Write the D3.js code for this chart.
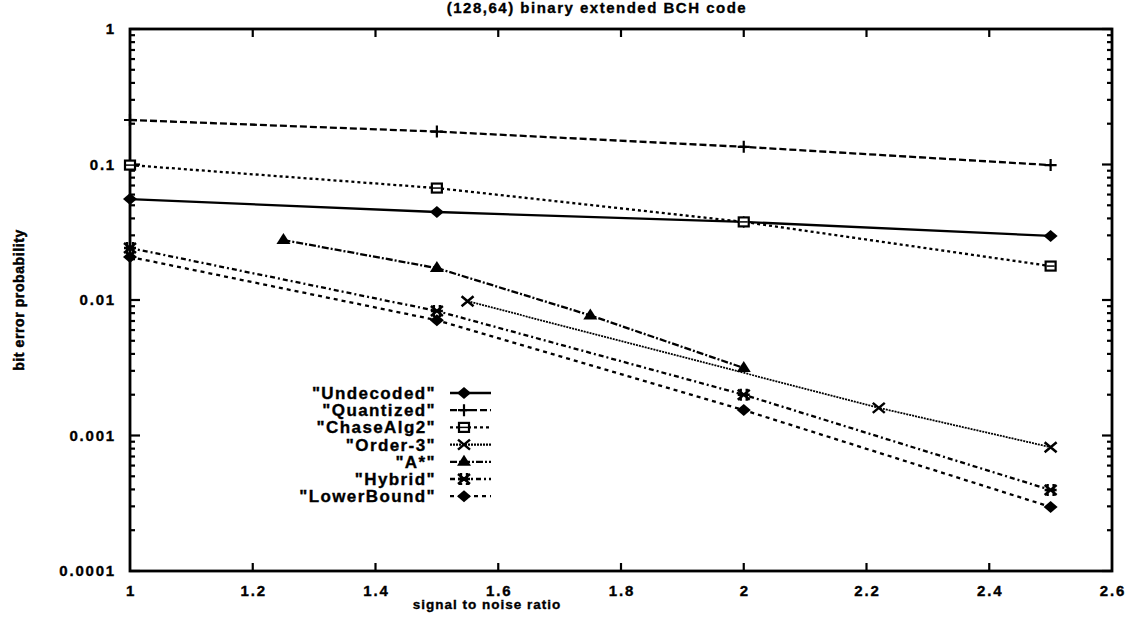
<!DOCTYPE html>
<html>
<head>
<meta charset="utf-8">
<script src="https://cdn.jsdelivr.net/npm/d3@7"></script>
<style>
  body { margin: 0; background: #fff; }
  svg { display: block; }
  text { font-family: "Liberation Sans", Arial, sans-serif; font-weight: bold; fill: #000; stroke: #000; stroke-width: 0.35; }
</style>
</head>
<body>
<svg id="chart" width="1135" height="619"></svg>
<script>
// series
var snrGrid = [1, 1.5, 2, 2.5];
var undecoded = [0.0556, 0.0446, 0.0377, 0.0297];
var quantized = [0.213, 0.175, 0.135, 0.099];
var chaseAlg2 = [0.099, 0.067, 0.0377, 0.0178];
var order3Snr = [1.55, 2.22, 2.5];
var order3 = [0.0098, 0.0016, 0.00082];
var aStarSnr = [1.25, 1.5, 1.75, 2];
var aStar = [0.0277, 0.0172, 0.0077, 0.00315];
var hybrid = [0.0242, 0.0083, 0.0020, 0.000396];
var lowerBound = [0.0208, 0.0071, 0.00154, 0.000297];

var seriesNames = ['"Undecoded"', '"Quantized"', '"ChaseAlg2"', '"Order-3"', '"A*"', '"Hybrid"', '"LowerBound"'];
var xTicks = [1, 1.2, 1.4, 1.6, 1.8, 2, 2.2, 2.4, 2.6];
var yTicks = [1, 0.1, 0.01, 0.001, 0.0001];
var yTickLabels = ["1", "0.1", "0.01", "0.001", "0.0001"];

var series = [
    {name: seriesNames[0], xs: snrGrid, ys: undecoded, dash: null, marker: "diamond"},
    {name: seriesNames[1], xs: snrGrid, ys: quantized, dash: "7,3", marker: "plus"},
    {name: seriesNames[2], xs: snrGrid, ys: chaseAlg2, dash: "3,3", marker: "box"},
    {name: seriesNames[3], xs: order3Snr, ys: order3, dash: "2,1", marker: "cross"},
    {name: seriesNames[4], xs: aStarSnr, ys: aStar, dash: "7,2,2,2", marker: "triangle"},
    {name: seriesNames[5], xs: snrGrid, ys: hybrid, dash: "5,3,2,3", marker: "star"},
    {name: seriesNames[6], xs: snrGrid, ys: lowerBound, dash: "4,4", marker: "diamond"}
];

var svg = d3.select("#chart");
var plotLeft = 130, plotRight = 1112, plotTop = 29, plotBottom = 571;

var x = d3.scaleLinear().domain([1, 2.6]).range([plotLeft, plotRight]);
var y = d3.scaleLog().domain([0.0001, 1]).range([plotBottom, plotTop]);

// ticks, inward on all four sides
var g = svg.append("g");
xTicks.slice(1, -1).forEach(function(t){
    g.append("line").attr("x1", x(t)).attr("x2", x(t)).attr("y1", plotBottom).attr("y2", plotBottom - 8)
        .attr("stroke", "#000").attr("stroke-width", 2.2);
    g.append("line").attr("x1", x(t)).attr("x2", x(t)).attr("y1", plotTop).attr("y2", plotTop + 8)
        .attr("stroke", "#000").attr("stroke-width", 2.2);
});
y.ticks().forEach(function(t){
    var major = Math.abs(Math.log10(t) - Math.round(Math.log10(t))) < 1e-6;
    var len = major ? 10 : 5;
    g.append("line").attr("x1", plotLeft).attr("x2", plotLeft + len).attr("y1", y(t)).attr("y2", y(t))
        .attr("stroke", "#000").attr("stroke-width", 2.2);
    g.append("line").attr("x1", plotRight).attr("x2", plotRight - len).attr("y1", y(t)).attr("y2", y(t))
        .attr("stroke", "#000").attr("stroke-width", 2.2);
});

// frame
svg.append("rect").attr("x", plotLeft).attr("y", plotTop).attr("width", plotRight - plotLeft).attr("height", plotBottom - plotTop)
    .attr("fill", "none").attr("stroke", "#000").attr("stroke-width", 2.8);

// tick labels
xTicks.forEach(function(t){
    svg.append("text").attr("x", x(t) + 1).attr("y", 596).attr("text-anchor", "middle")
        .attr("font-size", 15).attr("letter-spacing", 1.8).text(d3.format("")(t));
});
yTicks.forEach(function(t, i){
    svg.append("text").attr("x", 116).attr("y", y(t) + 5).attr("text-anchor", "end")
        .attr("font-size", 15).attr("letter-spacing", 1.8).text(yTickLabels[i]);
});

// titles
svg.append("text").attr("x", 597).attr("y", 13).attr("text-anchor", "middle")
    .attr("font-size", 15).attr("letter-spacing", 1.5).text("(128,64) binary extended BCH code");
svg.append("text").attr("x", 487).attr("y", 609).attr("text-anchor", "middle")
    .attr("font-size", 13.5).attr("letter-spacing", 1).text("signal to noise ratio");
svg.append("text").attr("transform", "translate(24,300) rotate(-90)").attr("text-anchor", "middle")
    .attr("font-size", 14).attr("font-weight", "normal").attr("letter-spacing", 0.6)
    .style("stroke-width", 0.5)
    .style("font-family", "'Liberation Sans Narrow', 'Liberation Sans', sans-serif")
    .text("bit error probability");

function drawMarker(sel, type, cx, cy){
    var s = 6;
    if(type === "diamond"){
        sel.append("path").attr("d", "M" + (cx - s - 1) + "," + cy + "L" + cx + "," + (cy - s) + "L" + (cx + s + 1) + "," + cy + "L" + cx + "," + (cy + s) + "Z")
            .attr("fill", "#000");
    } else if(type === "plus"){
        sel.append("path").attr("d", "M" + (cx - s) + "," + cy + "H" + (cx + s) + "M" + cx + "," + (cy - s) + "V" + (cy + s))
            .attr("stroke", "#000").attr("stroke-width", 2.2).attr("fill", "none");
    } else if(type === "box"){
        sel.append("rect").attr("x", cx - 5).attr("y", cy - 4.5).attr("width", 10).attr("height", 9)
            .attr("fill", "#fff").attr("stroke", "#000").attr("stroke-width", 2.2);
        sel.append("line").attr("x1", cx - 4).attr("x2", cx + 4).attr("y1", cy).attr("y2", cy)
            .attr("stroke", "#000").attr("stroke-width", 1.5);
    } else if(type === "cross"){
        sel.append("path").attr("d", "M" + (cx - s) + "," + (cy - s + 1) + "L" + (cx + s) + "," + (cy + s - 1) + "M" + (cx - s) + "," + (cy + s - 1) + "L" + (cx + s) + "," + (cy - s + 1))
            .attr("stroke", "#000").attr("stroke-width", 2.5).attr("fill", "none");
    } else if(type === "triangle"){
        sel.append("path").attr("d", "M" + (cx - s - 1) + "," + (cy + 4) + "L" + cx + "," + (cy - s - 1) + "L" + (cx + s + 1) + "," + (cy + 4) + "Z")
            .attr("fill", "#000");
    } else if(type === "star"){
        sel.append("path").attr("d", "M" + (cx - s) + "," + (cy - s + 1) + "L" + (cx + s) + "," + (cy + s - 1) + "M" + (cx - s) + "," + (cy + s - 1) + "L" + (cx + s) + "," + (cy - s + 1) +
                "M" + (cx - s) + "," + cy + "H" + (cx + s) + "M" + (cx - 3) + "," + (cy - s) + "V" + (cy + s) + "M" + (cx + 3) + "," + (cy - s) + "V" + (cy + s))
            .attr("stroke", "#000").attr("stroke-width", 2.4).attr("fill", "none");
    }
}

var line = d3.line().x(function(d){ return x(d[0]); }).y(function(d){ return y(d[1]); });

// series lines and points
series.forEach(function(s){
    var pts = s.xs.map(function(v, i){ return [v, s.ys[i]]; });
    svg.append("path").datum(pts).attr("d", line)
        .attr("fill", "none").attr("stroke", "#000").attr("stroke-width", s.name === '"Order-3"' ? 1.8 : 2.3)
        .attr("stroke-dasharray", s.dash);
    var pg = svg.append("g");
    pts.forEach(function(p){ drawMarker(pg, s.marker, x(p[0]), y(p[1])); });
});

// legend
var legendTop = 393, legendStep = 17.2;
series.forEach(function(s, i){
    var ly = legendTop + i * legendStep;
    svg.append("text").attr("x", 436).attr("y", ly + 6).attr("text-anchor", "end")
        .attr("font-size", 17).attr("letter-spacing", 1.4).text(s.name);
    svg.append("line").attr("x1", 450).attr("x2", 491).attr("y1", ly).attr("y2", ly)
        .attr("stroke", "#000").attr("stroke-width", 2.3).attr("stroke-dasharray", s.dash);
    drawMarker(svg, s.marker, 464, ly);
});
</script>
</body>
</html>
